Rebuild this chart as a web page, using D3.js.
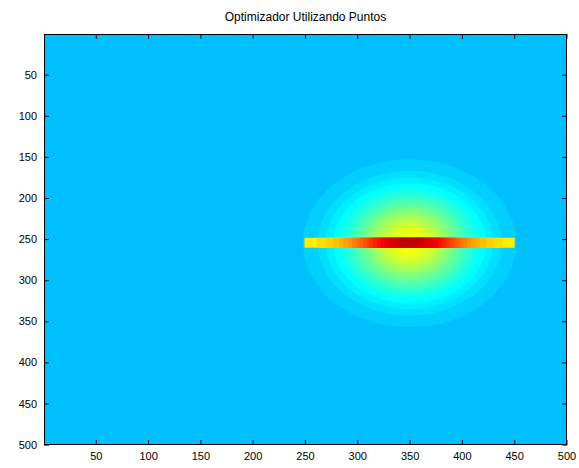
<!DOCTYPE html>
<html>
<head>
<meta charset="utf-8">
<script src="https://cdn.jsdelivr.net/npm/d3@7"></script>
<style>
  html, body { margin: 0; padding: 0; background: #fff; }
  svg { display: block; }
  .tick text { font-family: "Liberation Sans", Arial, sans-serif; font-size: 11px; fill: #000; }
</style>
</head>
<body>
<svg id="chart" width="579" height="468"></svg>
<script>
// Image extent (cells 1..500 in both directions)
const gridSize = 500;
const title = "Optimizador Utilizando Puntos";
const xTicks = [50, 100, 150, 200, 250, 300, 350, 400, 450, 500];
const yTicks = [50, 100, 150, 200, 250, 300, 350, 400, 450, 500];

// Background colormap index (jet, 64 levels)
const backgroundLevel = 20;

// Glow around the point: colormap index reached inside each radius (cells)
const glowCenter = [350, 255];
const glowLevels = [21, 22, 23, 24, 25, 26, 27, 28, 29, 30, 31, 32, 33, 34, 35, 36, 37, 38, 39, 40];
const glowRadii  = [102, 88, 80, 73, 67, 63, 58, 55, 51, 48, 44, 41, 38, 35, 31, 28, 24, 20, 15, 9];

// Horizontal bar of points: rows and columns it covers, plus its colour levels
const barRows = [249, 260];
const barCols = [250, 450];
const barCenter = 350;
const barLevels     = [41, 42, 43, 44, 45, 46, 47, 48, 49, 50, 51, 52, 53, 54, 55, 56, 57, 58, 59, 60];
const barHalfWidths = [106, 89, 80, 73, 67, 63, 58, 55, 51, 48, 44, 41, 38, 35, 31, 28, 24, 20, 15, 9];

// MATLAB-style jet colormap with 64 entries (k = 1..64)
function jet(k) {
  let r, g, b;
  if (k <= 8)       { r = 0; g = 0; b = 0.5 + k / 16; }
  else if (k <= 24) { r = 0; g = (k - 8) / 16; b = 1; }
  else if (k <= 40) { r = (k - 24) / 16; g = 1; b = 1 - (k - 24) / 16; }
  else if (k <= 56) { r = 1; g = 1 - (k - 40) / 16; b = 0; }
  else              { r = 1 - (k - 56) / 16; g = 0; b = 0; }
  return d3.rgb(Math.round(r * 255), Math.round(g * 255), Math.round(b * 255)).toString();
}

const svg = d3.select("#chart");
const plotLeft = 44, plotRight = 567, plotTop = 34, plotBottom = 445;

const x = d3.scaleLinear().domain([0.5, gridSize + 0.5]).range([plotLeft, plotRight]);
const y = d3.scaleLinear().domain([0.5, gridSize + 0.5]).range([plotTop, plotBottom]);

svg.append("defs").append("clipPath").attr("id", "plotClip")
  .append("rect")
  .attr("x", plotLeft).attr("y", plotTop)
  .attr("width", plotRight - plotLeft).attr("height", plotBottom - plotTop);

const plot = svg.append("g").attr("clip-path", "url(#plotClip)");

// Background field
plot.append("rect")
  .attr("x", x(0.5)).attr("y", y(0.5))
  .attr("width", x(gridSize + 0.5) - x(0.5))
  .attr("height", y(gridSize + 0.5) - y(0.5))
  .attr("fill", jet(backgroundLevel));

// Glow rings, outermost first
const glow = glowLevels.map((lv, i) => ({ level: lv, r: glowRadii[i] }));
plot.selectAll("ellipse.glow").data(glow).join("ellipse")
  .attr("class", "glow")
  .attr("cx", x(glowCenter[0]))
  .attr("cy", y(glowCenter[1]))
  .attr("rx", d => x(glowCenter[0] + d.r) - x(glowCenter[0]))
  .attr("ry", d => y(glowCenter[1] + d.r) - y(glowCenter[1]))
  .attr("fill", d => jet(d.level));

// Bar segments, widest first
const bar = barLevels.map((lv, i) => ({
  level: lv,
  c0: Math.max(barCols[0] - 0.5, barCenter - barHalfWidths[i]),
  c1: Math.min(barCols[1] + 0.5, barCenter + barHalfWidths[i])
}));
plot.selectAll("rect.bar").data(bar).join("rect")
  .attr("class", "bar")
  .attr("x", d => x(d.c0))
  .attr("width", d => x(d.c1) - x(d.c0))
  .attr("y", y(barRows[0] - 0.5))
  .attr("height", y(barRows[1] + 0.5) - y(barRows[0] - 0.5))
  .attr("fill", d => jet(d.level));

// Axes with inward ticks
const tickLen = 5;
const gx = svg.append("g").attr("transform", `translate(0,${plotBottom})`)
  .call(d3.axisBottom(x).tickValues(xTicks).tickSizeInner(-tickLen).tickSizeOuter(0).tickPadding(7));
const gy = svg.append("g").attr("transform", `translate(${plotLeft},0)`)
  .call(d3.axisLeft(y).tickValues(yTicks).tickSizeInner(-tickLen).tickSizeOuter(0).tickPadding(7));
const gxt = svg.append("g").attr("transform", `translate(0,${plotTop})`)
  .call(d3.axisTop(x).tickValues(xTicks).tickSizeInner(-tickLen).tickSizeOuter(0).tickFormat(""));
const gyr = svg.append("g").attr("transform", `translate(${plotRight},0)`)
  .call(d3.axisRight(y).tickValues(yTicks).tickSizeInner(-tickLen).tickSizeOuter(0).tickFormat(""));

[gx, gy, gxt, gyr].forEach(g => {
  g.select(".domain").remove();
  g.selectAll(".tick line").attr("stroke", "#000");
});

// Axes box
svg.append("rect")
  .attr("x", plotLeft + 0.5).attr("y", plotTop + 0.5)
  .attr("width", plotRight - plotLeft - 1).attr("height", plotBottom - plotTop - 1)
  .attr("fill", "none").attr("stroke", "#000").attr("stroke-width", 1);

// Title
svg.append("text")
  .attr("x", (plotLeft + plotRight) / 2)
  .attr("y", 21)
  .attr("text-anchor", "middle")
  .attr("font-family", "Liberation Sans, Arial, sans-serif")
  .attr("font-size", 12)
  .text(title);
</script>
</body>
</html>
